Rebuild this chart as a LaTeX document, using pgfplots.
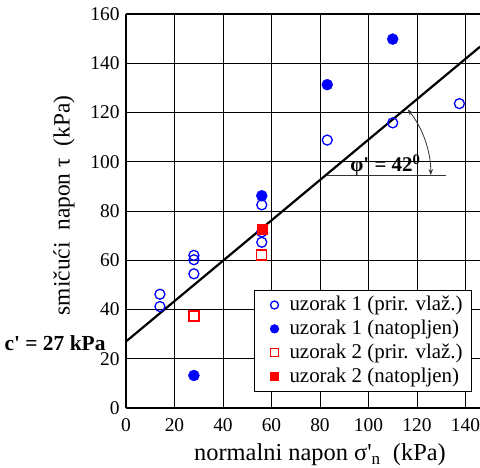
\documentclass[border=0pt]{standalone}
\usepackage{pgfplots}
\pgfplotsset{compat=1.18}
\usepackage{fontspec}
\setmainfont{Liberation Serif}
\usetikzlibrary{arrows.meta}
\pgfplotsset{myleg/.style={legend image code/.code={\path[draw=none,fill=none] (0bp,0bp) (26bp,0bp); \draw[##1,mark size=4bp] plot coordinates {(13bp,0bp)};}}}
\begin{document}
\fontsize{19}{22}\selectfont
\begin{tikzpicture}
\useasboundingbox (-126bp,-60bp) rectangle (354bp,408bp);
\begin{axis}[
  scale only axis, width=354bp, height=394bp,
  xmin=0, xmax=146, ymin=0, ymax=160,
  xtick={0,20,...,140}, ytick={0,20,...,160},
  grid=major, major grid style={black, line width=0.9bp},
  axis lines=left, axis line style={-, line width=2.2bp},
  major tick length=0pt,
  clip=false,
  tick label style={/pgf/number format/assume math mode=true, font=\fontsize{19.5}{22}\selectfont},
  xticklabel style={yshift=-4bp},
  yticklabel style={xshift=0bp},
  xlabel={normalni napon σ\textquotesingle\textsubscript{n}\ \ (kPa)},
  xlabel style={at={(axis cs:80,0)}, anchor=center, yshift=-47bp, font=\fontsize{24.5}{27}\selectfont},
  ylabel={smičući\ \ napon τ\ \ (kPa)},
  ylabel style={at={(axis description cs:-0.175,0.514)}, anchor=center, font=\fontsize{23.5}{26}\selectfont},
  legend style={at={(0.978,0.041)}, anchor=south east, draw=black, line width=1.2bp, fill=white, font=\fontsize{21}{23}\selectfont, row sep=2.5bp, inner xsep=7bp, inner ysep=4bp},
  legend cell align=left,
]
\addplot[black, line width=2.2bp, forget plot] coordinates {(0,27) (146,146.7)};
\addplot[only marks, myleg, mark=o, mark size=5bp, blue, mark options={line width=1.3bp}] coordinates {
(14,46.2) (14,41.2) (28,62) (28,60.2) (28,54.5) (56,82.5) (56,71.5) (56,67.3) (83,108.8) (110,115.8) (137.5,123.6)};
\addlegendentry{uzorak 1 (prir. vlaž.)}
\addplot[only marks, myleg, mark=*, mark size=5.5bp, blue] coordinates {
(28,13.2) (56,86.2) (83,131.3) (110,149.8)};
\addlegendentry{uzorak 1 (natopljen)}
\addplot[only marks, myleg, mark=square, mark size=5bp, red, mark options={line width=1.4bp}] coordinates {
(28,37.4) (56,62.2)};
\addlegendentry{uzorak 2 (prir. vlaž.)}
\addplot[only marks, myleg, mark=square*, mark size=5bp, red] coordinates {
(56,72.6)};
\addlegendentry{uzorak 2 (natopljen)}
\draw[line width=2.2bp] (axis cs:0,160) -- (axis cs:146,160);
\draw[line width=0.8bp, black!80] (axis cs:82.4,94.6) -- (axis cs:132,94.6);
\draw[line width=0.8bp, black!80, {Stealth[length=6bp]}-{Stealth[length=6bp]}] (axis cs:82.4,94.6) ++(38.6:105bp) arc[start angle=38.6, end angle=0, radius=105bp];
\node[font=\bfseries\fontsize{21}{23}\selectfont] at (axis cs:107,98.6) {φ\textquotesingle\ = 42\textsuperscript{0}};
\node[anchor=east, font=\bfseries\fontsize{21.5}{23}\selectfont, xshift=-14bp] at (axis cs:0,26.3) {c\textquotesingle\ = 27 kPa};
\end{axis}
\end{tikzpicture}
\end{document}
